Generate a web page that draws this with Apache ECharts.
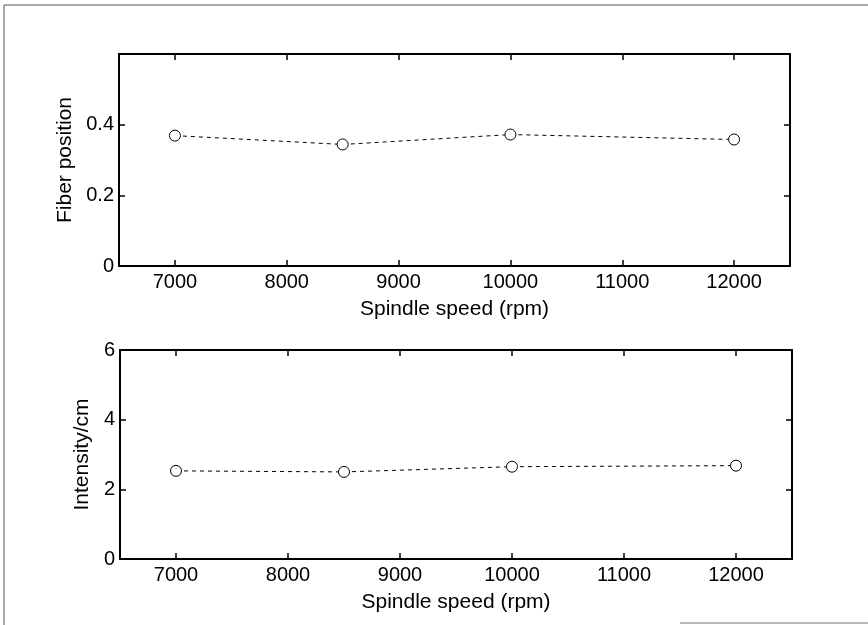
<!DOCTYPE html>
<html>
<head>
<meta charset="utf-8">
<script src="https://cdn.jsdelivr.net/npm/echarts@6/dist/echarts.min.js"></script>
<style>
  html, body { margin: 0; padding: 0; background: #fff; }
  #chart { width: 868px; height: 625px; }
</style>
</head>
<body>
<div id="chart"></div>
<script>
// 紡錘回転数と繊維位置・強度（上下2段のグラフ）
const speeds = [7000, 8500, 10000, 12000];
const fiberPosition = [0.369, 0.344, 0.372, 0.358];
const intensity = [2.53, 2.50, 2.65, 2.68];
const xTicks = [7000, 8000, 9000, 10000, 11000, 12000];

const FONT = '"Liberation Sans", Arial, sans-serif';

const chart = echarts.init(document.getElementById('chart'));

function xAxisOpt(gridIndex, showLabel) {
  return {
    type: 'value',
    gridIndex,
    position: showLabel ? 'bottom' : 'top',
    min: 6500,
    max: 12500,
    name: showLabel ? 'Spindle speed (rpm)' : '',
    nameLocation: 'middle',
    nameGap: 33,
    nameTextStyle: { color: '#000', fontSize: 21, fontFamily: FONT },
    axisLine: { show: true, onZero: false, lineStyle: { color: '#000', width: 2 } },
    axisTick: { show: true, inside: true, length: 6, customValues: xTicks, lineStyle: { color: '#000', width: 1.5 } },
    axisLabel: {
      show: showLabel, customValues: xTicks, color: '#000', fontSize: 20, fontFamily: FONT, margin: 6,
      formatter: v => String(v)
    },
    splitLine: { show: false }
  };
}

function yAxisOpt(gridIndex, left, max, interval, name, nameGap, showMax) {
  return {
    type: 'value',
    gridIndex,
    position: left ? 'left' : 'right',
    min: 0,
    max,
    interval,
    name: left ? name : '',
    nameLocation: 'middle',
    nameGap,
    nameRotate: 90,
    nameTextStyle: { color: '#000', fontSize: 21, fontFamily: FONT },
    axisLine: { show: true, lineStyle: { color: '#000', width: 2 } },
    axisTick: { show: true, inside: true, length: 6, lineStyle: { color: '#000', width: 1.5 } },
    axisLabel: {
      show: left, color: '#000', fontSize: 20, fontFamily: FONT, margin: 5, showMaxLabel: showMax,
      formatter: v => String(v)
    },
    splitLine: { show: false }
  };
}

function lineSeries(axisIndex, values) {
  return {
    type: 'line',
    xAxisIndex: axisIndex,
    yAxisIndex: axisIndex,
    data: speeds.map((s, i) => [s, values[i]]),
    symbol: 'circle',
    symbolSize: 11,
    itemStyle: { color: '#fff', borderColor: '#000', borderWidth: 1 },
    lineStyle: { color: '#000', width: 1, type: [4, 4] },
    animation: false
  };
}

const option = {
  backgroundColor: '#fff',
  animation: false,
  grid: [
    { left: 119, top: 54, width: 671, height: 212 },
    { left: 120, top: 350, width: 672, height: 209 }
  ],
  xAxis: [
    xAxisOpt(0, true),
    xAxisOpt(1, true),
    xAxisOpt(0, false),
    xAxisOpt(1, false)
  ],
  yAxis: [
    yAxisOpt(0, true, 0.6, 0.2, 'Fiber position', 38, false),
    yAxisOpt(1, true, 6, 2, 'Intensity/cm', 23, true),
    yAxisOpt(0, false, 0.6, 0.2, '', 0, false),
    yAxisOpt(1, false, 6, 2, '', 0, true)
  ],
  series: [
    lineSeries(0, fiberPosition),
    lineSeries(1, intensity)
  ],
  graphic: [
    // 外枠（スキャン画像の枠線）
    { type: 'line', shape: { x1: 4, y1: 5, x2: 868, y2: 5 }, style: { stroke: '#555', lineWidth: 1 } },
    { type: 'line', shape: { x1: 4, y1: 5, x2: 4, y2: 625 }, style: { stroke: '#555', lineWidth: 1 } },
    { type: 'line', shape: { x1: 680, y1: 623, x2: 868, y2: 623 }, style: { stroke: '#777', lineWidth: 1 } }
  ]
};

chart.setOption(option);
</script>
</body>
</html>
